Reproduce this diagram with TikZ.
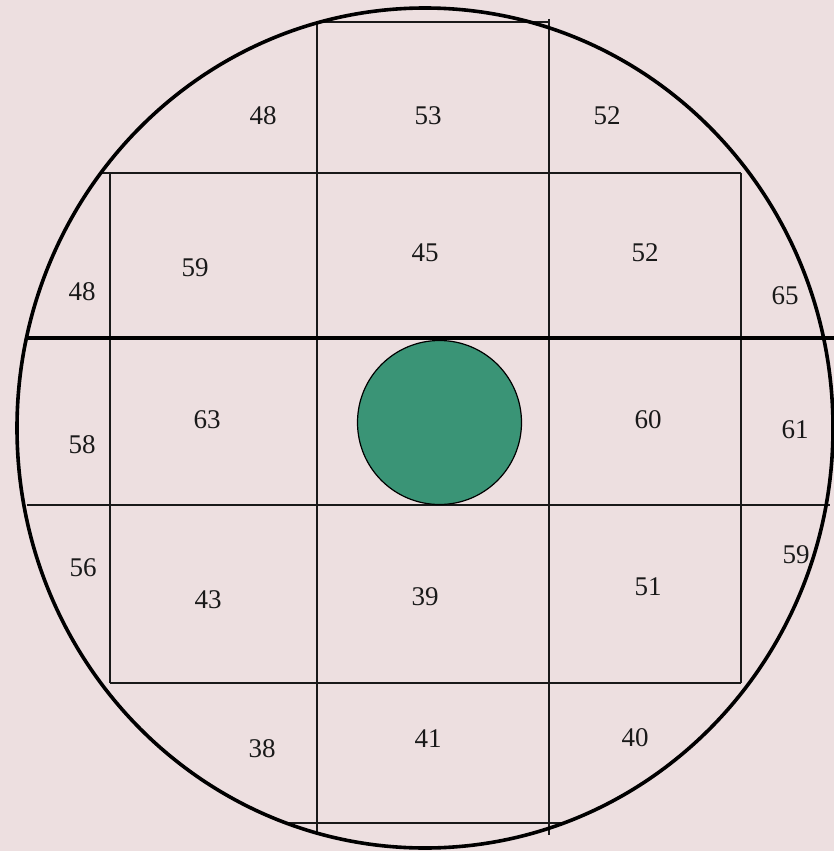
\documentclass[tikz,border=0pt]{standalone}
\usepackage{fontspec}
\setmainfont{Liberation Serif}
\definecolor{bgpink}{RGB}{237,223,224}
\definecolor{teal}{RGB}{58,148,118}
\tikzset{
  thin line/.style={line width=1.4pt, black!90},
  thick line/.style={line width=4pt, black},
  rim/.style={line width=3.6pt, black},
  val/.style={inner sep=0pt, font=\fontsize{27}{27}\selectfont, text=black!90}
}
\begin{document}
\begin{tikzpicture}[x=1pt,y=-1pt]
\fill[bgpink] (0,0) rectangle (834,851);
\useasboundingbox (0,0) rectangle (834,851);
% grid
\draw[thin line] (317,22) -- (549,22);
\draw[thin line] (549,19) -- (549,835);
\draw[thin line] (317,22) -- (317,833);
\draw[thin line] (100,173) -- (741,173);
\draw[thin line] (110,173) -- (110,683);
\draw[thin line] (741,173) -- (741,683);
\draw[thin line] (27,505) -- (830,505);
\draw[thin line] (110,683) -- (741,683);
\draw[thin line] (283,823) -- (563,823);
% outer rim
\draw[rim] (425,428) ellipse [x radius=408, y radius=420];
% green disc
\draw[line width=1.2pt, fill=teal] (439.5,422.5) circle [radius=82];
% thick line
\draw[thick line] (27,338) -- (834,338);
% values
\node[val] (a1) at (263,116) {48};
\node[val] (a2) at (428,116) {53};
\node[val] (a3) at (607,116) {52};
\node[val] (b0) at (82,292) {48};
\node[val] (b1) at (195,268) {59};
\node[val] (b2) at (425,253) {45};
\node[val] (b3) at (645,253) {52};
\node[val] (b4) at (785,296) {65};
\node[val] (c0) at (82,445) {58};
\node[val] (c1) at (207,420) {63};
\node[val] (c3) at (648,420) {60};
\node[val] (c4) at (795,430) {61};
\node[val] (d0) at (83,568) {56};
\node[val] (d1) at (208,600) {43};
\node[val] (d2) at (425,597) {39};
\node[val] (d3) at (648,587) {51};
\node[val] (d4) at (796,555) {59};
\node[val] (e1) at (262,749) {38};
\node[val] (e2) at (428,739) {41};
\node[val] (e3) at (635,738) {40};
\end{tikzpicture}
\end{document}
